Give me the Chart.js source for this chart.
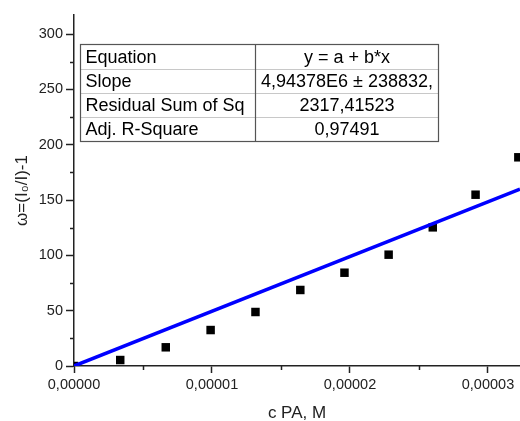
<!DOCTYPE html>
<html><head><meta charset="utf-8">
<script src="https://cdn.jsdelivr.net/npm/chart.js@4/dist/chart.umd.min.js"></script>
<style>html,body{margin:0;padding:0;background:#fff}canvas{display:block}</style>
</head><body>
<canvas id="c" width="520" height="421"></canvas>
<script>
// ---- data ----
const concX  = [0, 0.335e-5, 0.665e-5, 0.99e-5, 1.315e-5, 1.64e-5, 1.96e-5, 2.28e-5, 2.60e-5, 2.91e-5, 3.22e-5];
const omegaY = [0, 5.4, 16.9, 32.5, 48.8, 68.7, 84.3, 100.6, 125.3, 154.8, 188.6];
const fitIntercept = 0;
const fitSlope = 4.94378e6;
const xRange = [0, 3.232e-5];
const yRange = [0, 317.2];
const xTickValues = [0, 1e-5, 2e-5, 3e-5];
const xTickLabels = ['0,00000', '0,00001', '0,00002', '0,00003'];
const xMinorValues = [0.5e-5, 1.5e-5, 2.5e-5];
const yTickValues = [0, 50, 100, 150, 200, 250, 300];
const yTickLabels = ['0', '50', '100', '150', '200', '250', '300'];
const yMinorValues = [25, 75, 125, 175, 225, 275];
const tableLabels = ['Equation', 'Slope', 'Residual Sum of Sq', 'Adj. R-Square'];
const tableValues = ['y = a + b*x', '4,94378E6 ± 238832,', '2317,41523', '0,97491'];
const xTitle = 'c PA, M';
const yTitle = 'ω=(I₀/I)-1';

// ---- build ----
const pts = concX.map((x, i) => ({x: x, y: omegaY[i]}));
const fitPts = xRange.map(x => ({x: x, y: fitIntercept + fitSlope * x}));
const FONT = "'Liberation Sans', Arial, sans-serif";
const AX = '#222';

const extras = {
  id: 'extras',
  afterDraw(chart) {
    const ctx = chart.ctx;
    const xs = chart.scales.x, ys = chart.scales.y;
    const ca = chart.chartArea;
    ctx.save();
    ctx.strokeStyle = AX;
    ctx.lineWidth = 1.5;
    ctx.beginPath();
    xMinorValues.forEach(v => {
      const px = Math.round(xs.getPixelForValue(v)) + 0.5;
      ctx.moveTo(px, ca.bottom); ctx.lineTo(px, ca.bottom + 4);
    });
    yMinorValues.forEach(v => {
      const py = Math.round(ys.getPixelForValue(v)) + 0.5;
      ctx.moveTo(ca.left - 4, py); ctx.lineTo(ca.left, py);
    });
    ctx.stroke();

    // table
    const L = 80.5, M = 255.5, R = 438.5, T = 44.5, rowH = 24.25;
    const B = T + rowH * tableLabels.length;
    ctx.fillStyle = '#fff';
    ctx.fillRect(L, T, R - L, B - T);
    ctx.strokeStyle = '#c8c8c8';
    ctx.lineWidth = 1;
    ctx.beginPath();
    for (let i = 1; i < tableLabels.length; i++) {
      const y = Math.round(T + rowH * i) + 0.5;
      ctx.moveTo(L, y); ctx.lineTo(R, y);
    }
    ctx.stroke();
    ctx.strokeStyle = '#555';
    ctx.lineWidth = 1.2;
    ctx.beginPath();
    ctx.moveTo(M, T); ctx.lineTo(M, B);
    ctx.stroke();
    ctx.strokeRect(L, T, R - L, B - T);
    ctx.fillStyle = '#000';
    ctx.font = '18px ' + FONT;
    ctx.textBaseline = 'middle';
    tableLabels.forEach((t, i) => {
      const cy = T + rowH * (i + 0.5) + 1;
      ctx.textAlign = 'left';
      ctx.fillText(t, L + 5, cy);
      ctx.textAlign = 'center';
      ctx.fillText(tableValues[i], (M + R) / 2, cy);
    });
    ctx.restore();
  }
};

new Chart(document.getElementById('c'), {
  type: 'scatter',
  data: {
    datasets: [
      {
        label: 'data',
        data: pts,
        pointStyle: 'rect',
        pointRadius: 6,
        pointHoverRadius: 6,
        backgroundColor: '#000',
        borderColor: '#000',
        borderWidth: 0,
        showLine: false,
        order: 2
      },
      {
        label: 'fit',
        data: fitPts,
        showLine: true,
        pointRadius: 0,
        borderColor: '#0000ff',
        borderWidth: 3.5,
        fill: false,
        order: 1
      }
    ]
  },
  options: {
    responsive: false,
    animation: false,
    devicePixelRatio: 1,
    layout: {autoPadding: false, padding: {left: 0, right: 0, top: 15, bottom: 0}},
    plugins: {legend: {display: false}, tooltip: {enabled: false}},
    scales: {
      x: {
        type: 'linear',
        min: xRange[0], max: xRange[1],
        afterBuildTicks: s => { s.ticks = xTickValues.map(v => ({value: v})); },
        afterFit: s => { s.height = 55; s.paddingLeft = 0; s.paddingRight = 0; },
        ticks: {
          callback: (v, i) => xTickLabels[i],
          font: {family: FONT, size: 14.5},
          color: '#222',
          padding: 3,
          maxRotation: 0,
          autoSkip: false
        },
        grid: {display: true, drawOnChartArea: false, drawTicks: true, tickLength: 7, tickColor: AX, tickWidth: 1.5},
        border: {display: true, color: AX, width: 1.5},
        title: {display: true, text: xTitle, font: {family: FONT, size: 17}, color: '#222', padding: {top: 0, bottom: -3}}
      },
      y: {
        type: 'linear',
        min: yRange[0], max: yRange[1],
        afterBuildTicks: s => { s.ticks = yTickValues.map(v => ({value: v})); },
        afterFit: s => { s.width = 74; s.paddingTop = 0; s.paddingBottom = 0; },
        ticks: {
          callback: (v, i) => yTickLabels[i],
          font: {family: FONT, size: 14.5},
          color: '#222',
          padding: 3,
          autoSkip: false
        },
        grid: {display: true, drawOnChartArea: false, drawTicks: true, tickLength: 8, tickColor: AX, tickWidth: 1.5},
        border: {display: true, color: AX, width: 1.5},
        title: {display: true, text: yTitle, font: {family: FONT, size: 17}, color: '#222', padding: {top: 12, bottom: 0}}
      }
    }
  },
  plugins: [extras]
});
</script>
</body></html>
